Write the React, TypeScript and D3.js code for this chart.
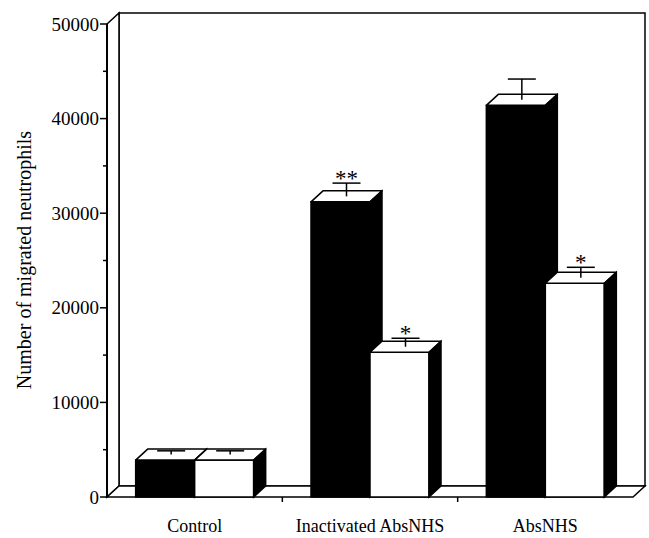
import * as d3 from "d3";

const categories = ["Control", "Inactivated AbsNHS", "AbsNHS"];
const seriesKeys = ["filled", "open"];
const filledValues = [3900, 31200, 41400];
const filledErrors = [400, 1400, 2200];
const openValues = [3900, 15300, 22600];
const openErrors = [400, 900, 1100];
const filledMarks = ["", "**", ""];
const openMarks = ["", "*", "*"];
const yTicks = [0, 10000, 20000, 30000, 40000, 50000];
const yMinorTicks = [5000, 15000, 25000, 35000, 45000];
const yLabel = "Number of migrated neutrophils";

const W = 649;
const H = 538;
// 3D depth offset
const DX = 12;
const DY = -11;
const FONT = "'Liberation Serif', 'Times New Roman', serif";

export default function App() {
  const y = d3.scaleLinear().domain([0, 50000]).range([497, 24]);
  const x0 = d3.scaleBand<string>().domain(categories).range([107, 633]);
  const x1 = d3.scaleBand<string>().domain(seriesKeys).range([0, 118]);
  const base = y(0);
  const left = x0.range()[0];
  const right = x0.range()[1];
  const top = y.range()[1];

  const pts = (p: number[][]) => p.map((d) => d.join(",")).join(" ");

  const bars = categories.map((c, i) => {
    const gx = (x0(c) ?? 0) + x0.bandwidth() / 2 - 59;
    return seriesKeys.map((s) => {
      const v = s === "filled" ? filledValues[i] : openValues[i];
      const e = s === "filled" ? filledErrors[i] : openErrors[i];
      const m = s === "filled" ? filledMarks[i] : openMarks[i];
      return { c, s, v, e, m, bx: gx + (x1(s) ?? 0), bw: x1.bandwidth() };
    });
  });

  return (
    <svg
      width={W}
      height={H}
      style={{ position: "absolute", left: 0, top: 0, background: "white" }}
      fontFamily={FONT}
    >
      {/* back wall */}
      <rect
        x={left + DX}
        y={top + DY}
        width={right - left}
        height={base - top}
        fill="white"
        stroke="black"
        strokeWidth={1.5}
      />
      {/* left wall */}
      <polygon
        points={pts([
          [left, top],
          [left + DX, top + DY],
          [left + DX, base + DY],
          [left, base],
        ])}
        fill="white"
        stroke="black"
        strokeWidth={1.5}
      />
      {/* floor */}
      <polygon
        points={pts([
          [left, base],
          [right, base],
          [right + DX, base + DY],
          [left + DX, base + DY],
        ])}
        fill="white"
        stroke="black"
        strokeWidth={1.5}
      />
      {/* y axis */}
      <line x1={left} x2={left} y1={top} y2={base} stroke="black" strokeWidth={2} />
      {yTicks.map((t) => (
        <g key={t}>
          <line x1={left - 7} x2={left} y1={y(t)} y2={y(t)} stroke="black" strokeWidth={1.5} />
          <text
            x={left - 8}
            y={y(t)}
            textAnchor="end"
            dominantBaseline="central"
            fontSize={19}
          >
            {t}
          </text>
        </g>
      ))}
      {yMinorTicks.map((t) => (
        <line key={t} x1={left - 4} x2={left} y1={y(t)} y2={y(t)} stroke="black" strokeWidth={1.5} />
      ))}
      {/* x axis ticks */}
      {categories.slice(1).map((c) => (
        <line
          key={c}
          x1={x0(c)}
          x2={x0(c)}
          y1={base}
          y2={base + 5}
          stroke="black"
          strokeWidth={1.5}
        />
      ))}
      {categories.map((c) => (
        <text
          key={c}
          x={(x0(c) ?? 0) + x0.bandwidth() / 2}
          y={532}
          textAnchor="middle"
          fontSize={18}
        >
          {c}
        </text>
      ))}
      <text
        transform={`translate(31,260) rotate(-90)`}
        textAnchor="middle"
        fontSize={20}
      >
        {yLabel}
      </text>
      {/* bars */}
      {bars.map((group, gi) => (
        <g key={gi}>
          {group.map((b) => {
            const t = y(b.v);
            return (
              <g key={b.s}>
                <rect
                  x={b.bx}
                  y={t}
                  width={b.bw}
                  height={base - t}
                  fill={b.s === "filled" ? "black" : "white"}
                  stroke="black"
                  strokeWidth={1.5}
                />
                <polygon
                  points={pts([
                    [b.bx, t],
                    [b.bx + b.bw, t],
                    [b.bx + b.bw + DX, t + DY],
                    [b.bx + DX, t + DY],
                  ])}
                  fill="white"
                  stroke="black"
                  strokeWidth={1.5}
                  strokeLinejoin="round"
                />
                <polygon
                  points={pts([
                    [b.bx + b.bw, t],
                    [b.bx + b.bw + DX, t + DY],
                    [b.bx + b.bw + DX, base + DY],
                    [b.bx + b.bw, base],
                  ])}
                  fill="black"
                  stroke="black"
                  strokeWidth={1.5}
                />
              </g>
            );
          })}
          {group.map((b) => {
            const cx = b.bx + b.bw / 2 + DX / 2;
            const yb = y(b.v) + DY / 2;
            const yt = y(b.v + b.e) + DY / 2;
            return (
              <g key={b.s + "err"}>
                <line x1={cx} x2={cx} y1={yb} y2={yt} stroke="black" strokeWidth={1.5} />
                <line x1={cx - 14} x2={cx + 14} y1={yt} y2={yt} stroke="black" strokeWidth={1.5} />
                {b.m && (
                  <text x={cx} y={yt + 3} textAnchor="middle" fontSize={23}>
                    {b.m}
                  </text>
                )}
              </g>
            );
          })}
        </g>
      ))}
    </svg>
  );
}
